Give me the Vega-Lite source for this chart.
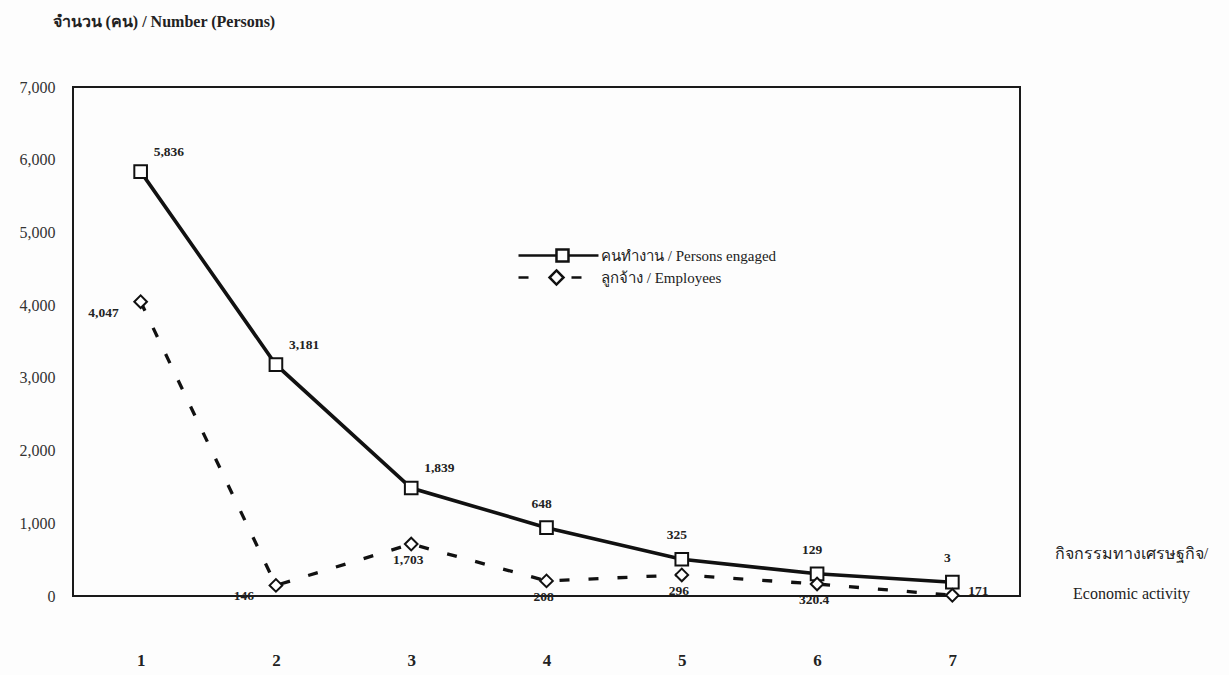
{
  "$schema": "https://vega.github.io/schema/vega-lite/v6.json",
  "width": 947,
  "height": 509,
  "autosize": {"type": "none"},
  "padding": {"left": 73, "top": 87, "right": 209, "bottom": 79},
  "background": "#fdfdfd",
  "config": {
    "view": {"stroke": "#1a1a1a", "strokeWidth": 2},
    "font": "Liberation Serif",
    "axis": {"domain": false, "ticks": false, "grid": false}
  },
  "data": {
    "values": [
      {"activity": 1, "series": "คนทำงาน / Persons engaged", "value": 5836, "label": "5,836"},
      {"activity": 2, "series": "คนทำงาน / Persons engaged", "value": 3181, "label": "3,181"},
      {"activity": 3, "series": "คนทำงาน / Persons engaged", "value": 1485, "label": "1,839"},
      {"activity": 4, "series": "คนทำงาน / Persons engaged", "value": 940, "label": "648"},
      {"activity": 5, "series": "คนทำงาน / Persons engaged", "value": 505, "label": "325"},
      {"activity": 6, "series": "คนทำงาน / Persons engaged", "value": 305, "label": "129"},
      {"activity": 7, "series": "คนทำงาน / Persons engaged", "value": 190, "label": "3"},
      {"activity": 1, "series": "ลูกจ้าง / Employees", "value": 4047, "label": "4,047"},
      {"activity": 2, "series": "ลูกจ้าง / Employees", "value": 146, "label": "146"},
      {"activity": 3, "series": "ลูกจ้าง / Employees", "value": 715, "label": "1,703"},
      {"activity": 4, "series": "ลูกจ้าง / Employees", "value": 208, "label": "208"},
      {"activity": 5, "series": "ลูกจ้าง / Employees", "value": 290, "label": "296"},
      {"activity": 6, "series": "ลูกจ้าง / Employees", "value": 165, "label": "320.4"},
      {"activity": 7, "series": "ลูกจ้าง / Employees", "value": 10, "label": "171"}
    ]
  },
  "encoding": {
    "x": {
      "field": "activity",
      "type": "ordinal",
      "scale": {"type": "point", "padding": 0.5},
      "axis": {
        "labelAngle": 0,
        "labelFont": "Liberation Serif",
        "labelFontSize": 17,
        "labelFontWeight": "bold",
        "labelColor": "#222",
        "labelPadding": 56,
        "title": ["กิจกรรมทางเศรษฐกิจ/", "Economic activity"],
        "titleAngle": 0,
        "titleAlign": "center",
        "titleBaseline": "top",
        "titleX": 1058,
        "titleY": -51,
        "titleLineHeight": 40,
        "titleFont": "Liberation Serif",
        "titleFontSize": 16,
        "titleFontWeight": "normal",
        "titleColor": "#222"
      }
    },
    "y": {
      "field": "value",
      "type": "quantitative",
      "scale": {"domain": [0, 7000], "nice": false},
      "axis": {
        "values": [0, 1000, 2000, 3000, 4000, 5000, 6000, 7000],
        "format": ",d",
        "labelFont": "Liberation Serif",
        "labelFontSize": 16,
        "labelColor": "#333",
        "labelPadding": 18,
        "title": "จำนวน (คน) / Number  (Persons)",
        "titleAngle": 0,
        "titleAlign": "left",
        "titleBaseline": "middle",
        "titleX": -21,
        "titleY": -66,
        "titleFont": "Liberation Serif",
        "titleFontSize": 16,
        "titleFontWeight": "bold",
        "titleColor": "#222"
      }
    }
  },
  "layer": [
    {
      "transform": [{"filter": "datum.series === 'คนทำงาน / Persons engaged'"}],
      "mark": {"type": "line", "color": "#111", "strokeWidth": 3.6},
      "encoding": {}
    },
    {
      "transform": [{"filter": "datum.series === 'ลูกจ้าง / Employees'"}],
      "mark": {"type": "line", "color": "#111", "strokeWidth": 3.3, "strokeDash": [10, 19]},
      "encoding": {}
    },
    {
      "transform": [{"filter": "datum.series === 'คนทำงาน / Persons engaged'"}],
      "mark": {"type": "point", "shape": "square", "filled": true, "fill": "white", "stroke": "#111", "strokeWidth": 2, "opacity": 1, "size": 160}
    },
    {
      "transform": [{"filter": "datum.series === 'ลูกจ้าง / Employees'"}],
      "mark": {"type": "point", "shape": "diamond", "filled": true, "fill": "white", "stroke": "#111", "strokeWidth": 2, "opacity": 1, "size": 160}
    },
    {
      "mark": {"type": "point", "filled": false, "color": "#111", "strokeWidth": 2.5, "opacity": 0, "size": 100},
      "encoding": {
        "shape": {
          "field": "series",
          "type": "nominal",
          "scale": {
            "domain": ["คนทำงาน / Persons engaged", "ลูกจ้าง / Employees"],
            "range": [
              "M-1,0H5.33M7.33,0H12.33M5.33,-1H7.33V1H5.33Z",
              "M-1,0H0.67M7.83,0H9.5M5.33,-1.17L6.5,0L5.33,1.17L4.17,0Z"
            ]
          },
          "legend": {
            "orient": "none",
            "legendX": 444,
            "legendY": 161,
            "title": null,
            "labelFont": "Liberation Serif",
            "labelFontSize": 15,
            "labelColor": "#222",
            "labelLimit": 400,
            "labelOffset": 69,
            "symbolSize": 144,
            "rowPadding": -2,
            "symbolStrokeWidth": 2.5,
            "symbolStrokeColor": "#111111",
            "symbolFillColor": "#ffffff",
            "symbolOpacity": 1
          }
        }
      }
    },
    {
      "transform": [{"filter": "datum.series === 'คนทำงาน / Persons engaged' && datum.activity <= 3"}],
      "mark": {"type": "text", "align": "left", "baseline": "middle", "dx": 13, "dy": -20, "font": "Liberation Serif", "fontSize": 13.5, "fontWeight": "bold", "color": "#222"},
      "encoding": {"text": {"field": "label"}}
    },
    {
      "transform": [{"filter": "datum.series === 'คนทำงาน / Persons engaged' && datum.activity >= 4"}],
      "mark": {"type": "text", "align": "center", "baseline": "middle", "dx": -5, "dy": -24, "font": "Liberation Serif", "fontSize": 13.5, "fontWeight": "bold", "color": "#222"},
      "encoding": {"text": {"field": "label"}}
    },
    {
      "transform": [{"filter": "datum.series === 'ลูกจ้าง / Employees' && datum.activity <= 2"}],
      "mark": {"type": "text", "align": "right", "baseline": "middle", "dx": -22, "dy": 11, "font": "Liberation Serif", "fontSize": 13.5, "fontWeight": "bold", "color": "#222"},
      "encoding": {"text": {"field": "label"}}
    },
    {
      "transform": [{"filter": "datum.series === 'ลูกจ้าง / Employees' && datum.activity >= 3 && datum.activity <= 6"}],
      "mark": {"type": "text", "align": "center", "baseline": "middle", "dx": -3, "dy": 16, "font": "Liberation Serif", "fontSize": 13.5, "fontWeight": "bold", "color": "#222"},
      "encoding": {"text": {"field": "label"}}
    },
    {
      "transform": [{"filter": "datum.series === 'ลูกจ้าง / Employees' && datum.activity === 7"}],
      "mark": {"type": "text", "align": "left", "baseline": "middle", "dx": 16, "dy": -4, "font": "Liberation Serif", "fontSize": 13.5, "fontWeight": "bold", "color": "#222"},
      "encoding": {"text": {"field": "label"}}
    }
  ]
}
